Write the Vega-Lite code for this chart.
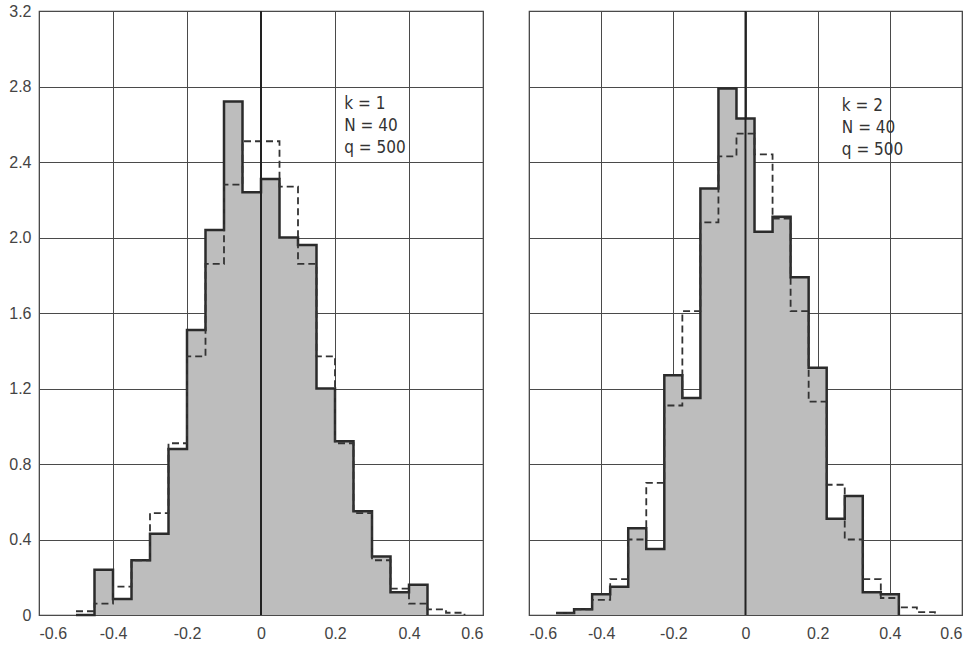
{
  "$schema": "https://vega.github.io/schema/vega-lite/v6.json",
  "background": "white",
  "padding": {"left": 8, "top": 2, "right": 0, "bottom": 0},
  "spacing": 46,
  "bounds": "flush",
  "config": {
    "view": {"stroke": "#3a3a3a", "strokeWidth": 1.2},
    "axis": {
      "gridColor": "#4a4a4a", "gridWidth": 1, "gridOpacity": 1,
      "ticks": false, "domain": false,
      "labelFont": "Liberation Sans", "labelFontSize": 16, "labelColor": "#444",
      "title": null
    }
  },
  "datasets": {
    "k1_obs": [
      {"lo": -0.50, "density": 0},
      {"lo": -0.45, "density": 0.24},
      {"lo": -0.40, "density": 0.085},
      {"lo": -0.35, "density": 0.29},
      {"lo": -0.30, "density": 0.43},
      {"lo": -0.25, "density": 0.88},
      {"lo": -0.20, "density": 1.51},
      {"lo": -0.15, "density": 2.04},
      {"lo": -0.10, "density": 2.72},
      {"lo": -0.05, "density": 2.24},
      {"lo": 0.00, "density": 2.31},
      {"lo": 0.05, "density": 2.00},
      {"lo": 0.10, "density": 1.96},
      {"lo": 0.15, "density": 1.20},
      {"lo": 0.20, "density": 0.92},
      {"lo": 0.25, "density": 0.55},
      {"lo": 0.30, "density": 0.31},
      {"lo": 0.35, "density": 0.12},
      {"lo": 0.40, "density": 0.16},
      {"lo": 0.45, "density": 0}
    ],
    "k1_fit": [
      {"lo": -0.50, "density": 0.02},
      {"lo": -0.45, "density": 0.06},
      {"lo": -0.40, "density": 0.15},
      {"lo": -0.35, "density": 0.29},
      {"lo": -0.30, "density": 0.54},
      {"lo": -0.25, "density": 0.91},
      {"lo": -0.20, "density": 1.37},
      {"lo": -0.15, "density": 1.86},
      {"lo": -0.10, "density": 2.28},
      {"lo": -0.05, "density": 2.51},
      {"lo": 0.00, "density": 2.51},
      {"lo": 0.05, "density": 2.27},
      {"lo": 0.10, "density": 1.86},
      {"lo": 0.15, "density": 1.37},
      {"lo": 0.20, "density": 0.91},
      {"lo": 0.25, "density": 0.54},
      {"lo": 0.30, "density": 0.29},
      {"lo": 0.35, "density": 0.14},
      {"lo": 0.40, "density": 0.06},
      {"lo": 0.45, "density": 0.03},
      {"lo": 0.50, "density": 0.012},
      {"lo": 0.55, "density": 0}
    ],
    "k2_obs": [
      {"lo": -0.525, "density": 0.01},
      {"lo": -0.475, "density": 0.03},
      {"lo": -0.425, "density": 0.11},
      {"lo": -0.375, "density": 0.15},
      {"lo": -0.325, "density": 0.46},
      {"lo": -0.275, "density": 0.35},
      {"lo": -0.225, "density": 1.27},
      {"lo": -0.175, "density": 1.15},
      {"lo": -0.125, "density": 2.26},
      {"lo": -0.075, "density": 2.79},
      {"lo": -0.025, "density": 2.63},
      {"lo": 0.025, "density": 2.03},
      {"lo": 0.075, "density": 2.11},
      {"lo": 0.125, "density": 1.79},
      {"lo": 0.175, "density": 1.31},
      {"lo": 0.225, "density": 0.51},
      {"lo": 0.275, "density": 0.63},
      {"lo": 0.325, "density": 0.12},
      {"lo": 0.375, "density": 0.11},
      {"lo": 0.425, "density": 0}
    ],
    "k2_fit": [
      {"lo": -0.525, "density": 0.01},
      {"lo": -0.475, "density": 0.03},
      {"lo": -0.425, "density": 0.08},
      {"lo": -0.375, "density": 0.19},
      {"lo": -0.325, "density": 0.40},
      {"lo": -0.275, "density": 0.70},
      {"lo": -0.225, "density": 1.11},
      {"lo": -0.175, "density": 1.61},
      {"lo": -0.125, "density": 2.08},
      {"lo": -0.075, "density": 2.43},
      {"lo": -0.025, "density": 2.55},
      {"lo": 0.025, "density": 2.44},
      {"lo": 0.075, "density": 2.10},
      {"lo": 0.125, "density": 1.61},
      {"lo": 0.175, "density": 1.13},
      {"lo": 0.225, "density": 0.69},
      {"lo": 0.275, "density": 0.40},
      {"lo": 0.325, "density": 0.19},
      {"lo": 0.375, "density": 0.09},
      {"lo": 0.425, "density": 0.04},
      {"lo": 0.475, "density": 0.015},
      {"lo": 0.525, "density": 0}
    ]
  },
  "hconcat": [
    {
      "width": 444,
      "height": 604,
      "layer": [
        {
          "data": {"name": "k1_obs"},
          "mark": {"type": "area", "interpolate": "step-after", "fill": "#bdbdbd", "stroke": null},
          "encoding": {
            "x": {"field": "lo", "type": "quantitative",
              "scale": {"domain": [-0.6, 0.6], "nice": false, "zero": false},
              "axis": {"values": [-0.6, -0.4, -0.2, 0, 0.2, 0.4, 0.6], "labelPadding": 10,
                "labelExpr": "datum.value === 0 ? '0' : (datum.value < 0 ? '-' : '') + format(abs(datum.value), '.1f')"}},
            "y": {"field": "density", "type": "quantitative",
              "scale": {"domain": [0, 3.2], "nice": false, "zero": true},
              "axis": {"values": [0, 0.4, 0.8, 1.2, 1.6, 2.0, 2.4, 2.8, 3.2], "labelPadding": 8,
                "labelExpr": "datum.value === 0 ? '0' : format(datum.value, '.1f')"}}
          }
        },
        {
          "data": {"name": "k1_obs"},
          "mark": {"type": "line", "interpolate": "step-after", "stroke": "#2b2b2b", "strokeWidth": 2.5, "strokeJoin": "miter"},
          "encoding": {
            "x": {"field": "lo", "type": "quantitative"},
            "y": {"field": "density", "type": "quantitative"}
          }
        },
        {
          "data": {"name": "k1_fit"},
          "mark": {"type": "line", "interpolate": "step-after", "stroke": "#333", "strokeWidth": 1.8, "strokeDash": [7, 4]},
          "encoding": {
            "x": {"field": "lo", "type": "quantitative"},
            "y": {"field": "density", "type": "quantitative"}
          }
        },
        {
          "data": {"values": [{}]},
          "mark": {"type": "rule", "stroke": "#222", "strokeWidth": 2},
          "encoding": {"x": {"datum": 0}, "y": {"datum": 0}, "y2": {"datum": 3.2}}
        },
        {
          "data": {"values": [{}]},
          "mark": {"type": "text", "align": "left", "baseline": "alphabetic", "fontSize": 17, "lineHeight": 22,
            "font": "Liberation Sans Narrow, DejaVu Sans Condensed, Liberation Sans", "color": "#333"},
          "encoding": {"x": {"datum": 0.225}, "y": {"datum": 2.68}, "text": {"value": ["k = 1", "N = 40", "q = 500"]}}
        }
      ]
    },
    {
      "width": 433,
      "height": 604,
      "layer": [
        {
          "data": {"name": "k2_obs"},
          "mark": {"type": "area", "interpolate": "step-after", "fill": "#bdbdbd", "stroke": null},
          "encoding": {
            "x": {"field": "lo", "type": "quantitative",
              "scale": {"domain": [-0.6, 0.6], "nice": false, "zero": false},
              "axis": {"values": [-0.6, -0.4, -0.2, 0, 0.2, 0.4, 0.6], "labelPadding": 10,
                "labelExpr": "datum.value === 0 ? '0' : (datum.value < 0 ? '-' : '') + format(abs(datum.value), '.1f')"}},
            "y": {"field": "density", "type": "quantitative",
              "scale": {"domain": [0, 3.2], "nice": false, "zero": true},
              "axis": {"values": [0, 0.4, 0.8, 1.2, 1.6, 2.0, 2.4, 2.8, 3.2], "labels": false, "minExtent": 0, "maxExtent": 0}}
          }
        },
        {
          "data": {"name": "k2_obs"},
          "mark": {"type": "line", "interpolate": "step-after", "stroke": "#2b2b2b", "strokeWidth": 2.5, "strokeJoin": "miter"},
          "encoding": {
            "x": {"field": "lo", "type": "quantitative"},
            "y": {"field": "density", "type": "quantitative"}
          }
        },
        {
          "data": {"name": "k2_fit"},
          "mark": {"type": "line", "interpolate": "step-after", "stroke": "#333", "strokeWidth": 1.8, "strokeDash": [7, 4]},
          "encoding": {
            "x": {"field": "lo", "type": "quantitative"},
            "y": {"field": "density", "type": "quantitative"}
          }
        },
        {
          "data": {"values": [{}]},
          "mark": {"type": "rule", "stroke": "#222", "strokeWidth": 2},
          "encoding": {"x": {"datum": 0}, "y": {"datum": 0}, "y2": {"datum": 3.2}}
        },
        {
          "data": {"values": [{}]},
          "mark": {"type": "text", "align": "left", "baseline": "alphabetic", "fontSize": 17, "lineHeight": 22,
            "font": "Liberation Sans Narrow, DejaVu Sans Condensed, Liberation Sans", "color": "#333"},
          "encoding": {"x": {"datum": 0.267}, "y": {"datum": 2.67}, "text": {"value": ["k = 2", "N = 40", "q = 500"]}}
        }
      ]
    }
  ]
}
